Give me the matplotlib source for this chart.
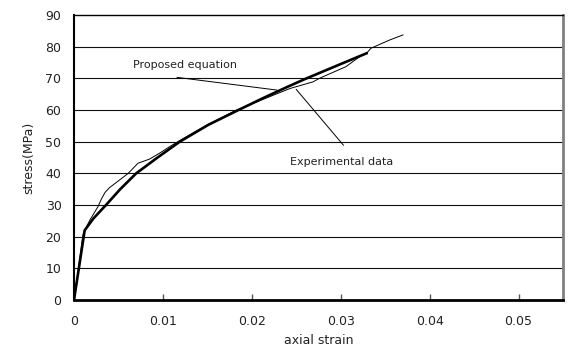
import matplotlib
matplotlib.use("Agg")
import matplotlib.pyplot as plt
from matplotlib.ticker import FixedLocator, FixedFormatter

# proposed equation (thick line)
prop_strain = [0, 0.0012, 0.0022, 0.0036, 0.0052, 0.0070, 0.0094, 0.0119, 0.0151,
               0.0185, 0.0213, 0.0240, 0.0260, 0.0299, 0.0329]
prop_stress = [0, 22.0, 25.8, 30.0, 35.0, 40.0, 45.0, 50.0, 55.3,
               60.0, 63.8, 67.3, 69.8, 74.4, 77.9]

# experimental data (thin line)
exp_strain = [0, 0.0005, 0.0010, 0.0012, 0.0018, 0.0027, 0.0031, 0.0035, 0.0040, 0.0048,
              0.0061, 0.0072, 0.0085, 0.0097, 0.0108, 0.0118, 0.0150, 0.0183,
              0.0220, 0.0243, 0.0269, 0.0276, 0.0306, 0.0321, 0.0329, 0.0334,
              0.0338, 0.0355, 0.0370]
exp_stress = [0, 10.0, 20.5, 22.0, 25.3, 29.5, 32.0, 34.0, 35.5, 37.2,
              40.0, 43.2, 44.5, 46.5, 48.5, 50.2, 55.3, 60.0,
              64.2, 66.8, 68.9, 70.0, 73.7, 76.8, 77.9, 79.5,
              80.0, 82.1, 83.7]

x_ticks = [0, 0.01, 0.02, 0.03, 0.04, 0.05]
x_labels = ["0", "0.01", "0.02", "0.03", "0.04", "0.05"]
y_ticks = [0, 10, 20, 30, 40, 50, 60, 70, 80, 90]

# leader lines for the two labels
prop_lead_x = [0.0116, 0.0228]
prop_lead_y = [70.3, 66.3]
exp_lead_x = [0.0303, 0.0250]
exp_lead_y = [48.9, 66.5]

txt = "#222222"
fig = plt.figure(figsize=(5.73, 3.53), dpi=100)
ax = fig.add_axes([74 / 573, 1 - 300 / 353, (563 - 74) / 573, (300 - 15) / 353])

for v in y_ticks[1:-1]:
    ax.axhline(v, color="#111111", lw=0.8, zorder=1)

ax.plot(exp_strain, exp_stress, color="black", lw=0.7, zorder=3)
ax.plot(prop_strain, prop_stress, color="black", lw=1.9, zorder=2)

ax.plot(prop_lead_x, prop_lead_y, color="black", lw=0.7)
ax.plot(exp_lead_x, exp_lead_y, color="black", lw=0.7)
ax.text(0.0066, 74.2, "Proposed equation", fontsize=8, color=txt, va="center")
ax.text(0.0243, 43.7, "Experimental data", fontsize=8, color=txt, va="center")

ax.set_xlim(0, 0.055)
ax.set_ylim(0, 90)
ax.xaxis.set_major_locator(FixedLocator(x_ticks))
ax.xaxis.set_major_formatter(FixedFormatter(x_labels))
ax.set_yticks(y_ticks)
ax.tick_params(axis="x", direction="in", length=4, width=1, color="#555555",
               pad=11, labelsize=9, labelcolor=txt)
ax.tick_params(axis="y", length=0, pad=9, labelsize=9, labelcolor=txt)

ax.spines["left"].set_linewidth(1.5)
ax.spines["bottom"].set_linewidth(2)
ax.spines["top"].set_linewidth(1)
ax.spines["right"].set_color("#808080")
ax.spines["right"].set_linewidth(2)

ax.set_xlabel("axial strain", fontsize=9, color=txt, labelpad=4)
ax.set_ylabel("stress(MPa)", fontsize=9, color=txt, labelpad=7)

fig.savefig("out.png", dpi=100)
